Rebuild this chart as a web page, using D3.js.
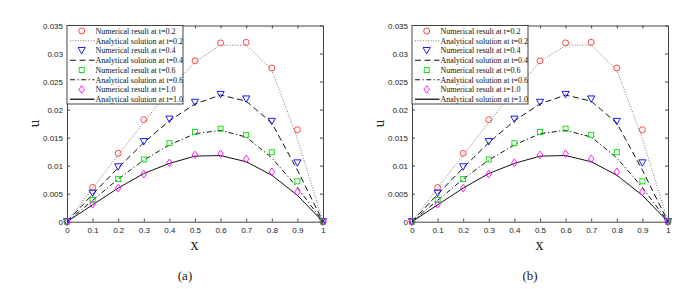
<!DOCTYPE html>
<html>
<head>
<meta charset="utf-8">
<script src="https://cdn.jsdelivr.net/npm/d3@7"></script>
<style>
  body { margin: 0; background: #fff; }
  svg { display: block; }
</style>
</head>
<body>
<div id="chart"></div>
<script>
// x positions
const xs = [0, 0.1, 0.2, 0.3, 0.4, 0.5, 0.6, 0.7, 0.8, 0.9, 1.0]

// numerical results (markers)
const num02 = [0, 0.0061, 0.0122, 0.0182, 0.0238, 0.0287, 0.0319, 0.0320, 0.0274, 0.0164, 0]
const num04 = [0, 0.0051, 0.0098, 0.0143, 0.0183, 0.0213, 0.0227, 0.0219, 0.0179, 0.0105, 0]
const num06 = [0, 0.0039, 0.0076, 0.0111, 0.0140, 0.0160, 0.0166, 0.0155, 0.0124, 0.0072, 0]
const num10 = [0, 0.0031, 0.0060, 0.0085, 0.0105, 0.0119, 0.0121, 0.0112, 0.0089, 0.0053, 0]

// analytical solutions (lines)
const ana02 = [0, 0.0060, 0.0119, 0.0177, 0.0235, 0.0285, 0.0315, 0.0315, 0.0271, 0.0148, 0]
const ana04 = [0, 0.0049, 0.0096, 0.0141, 0.0180, 0.0210, 0.0226, 0.0215, 0.0176, 0.0092, 0]
const ana06 = [0, 0.0038, 0.0076, 0.0110, 0.0137, 0.0157, 0.0163, 0.0151, 0.0114, 0.0061, 0]
const ana10 = [0, 0.0030, 0.0060, 0.0086, 0.0104, 0.0117, 0.0118, 0.0107, 0.0083, 0.0047, 0]

const xTicks = [0, 0.1, 0.2, 0.3, 0.4, 0.5, 0.6, 0.7, 0.8, 0.9, 1]
const yTicks = [0, 0.005, 0.01, 0.015, 0.02, 0.025, 0.03, 0.035]
const panelLabels = ['(a)', '(b)']

const numSeries = [
    { name: 'Numerical result at t=0.2', values: num02, color: '#ff3333', shape: 'circle' },
    { name: 'Numerical result at t=0.4', values: num04, color: '#0000ff', shape: 'triangle' },
    { name: 'Numerical result at t=0.6', values: num06, color: '#00dd00', shape: 'square' },
    { name: 'Numerical result at t=1.0', values: num10, color: '#ff00ff', shape: 'diamond' }
]
const anaSeries = [
    { name: 'Analytical solution at t=0.2', values: ana02, dash: '1,1.6', color: '#777' },
    { name: 'Analytical solution at t=0.4', values: ana04, dash: '6,3.5', color: '#111' },
    { name: 'Analytical solution at t=0.6', values: ana06, dash: '5,2.5,1.2,2.5', color: '#111' },
    { name: 'Analytical solution at t=1.0', values: ana10, dash: null, color: '#111' }
]

const W = 699, H = 289
const svg = d3.select('#chart').append('svg')
    .attr('width', W)
    .attr('height', H)

function drawMarker(g, shape, color, cx, cy) {
    if (shape === 'circle') {
        g.append('circle').attr('cx', cx).attr('cy', cy).attr('r', 3)
            .attr('fill', 'none').attr('stroke', color).attr('stroke-width', 0.9)
    } else if (shape === 'triangle') {
        g.append('path')
            .attr('d', `M${cx - 3.6},${cy - 3} L${cx + 3.6},${cy - 3} L${cx},${cy + 3.4} Z`)
            .attr('fill', 'none').attr('stroke', color).attr('stroke-width', 0.9)
    } else if (shape === 'square') {
        g.append('rect').attr('x', cx - 2.5).attr('y', cy - 2.5).attr('width', 5).attr('height', 5)
            .attr('fill', 'none').attr('stroke', color).attr('stroke-width', 0.9)
    } else {
        g.append('path')
            .attr('d', `M${cx},${cy - 3.8} L${cx + 2.8},${cy} L${cx},${cy + 3.8} L${cx - 2.8},${cy} Z`)
            .attr('fill', 'none').attr('stroke', color).attr('stroke-width', 0.9)
    }
}

function drawPanel(ox, label) {
    const left = ox, right = ox + 256, top = 25.5, bottom = 221.7
    const x = d3.scaleLinear().domain([0, 1]).range([left, right])
    const y = d3.scaleLinear().domain([0, 0.035]).range([bottom, top])
    const g = svg.append('g')

    // axes with inward ticks
    const axB = g.append('g').attr('transform', `translate(0,${bottom})`)
        .call(d3.axisBottom(x).tickValues(xTicks).tickSizeInner(-3).tickSizeOuter(0).tickPadding(6)
            .tickFormat(d => d === 0 || d === 1 ? d3.format('d')(d) : d3.format('.1f')(d)))
    const axT = g.append('g').attr('transform', `translate(0,${top})`)
        .call(d3.axisTop(x).tickValues(xTicks).tickSizeInner(-3).tickSizeOuter(0).tickFormat(''))
    const axL = g.append('g').attr('transform', `translate(${left},0)`)
        .call(d3.axisLeft(y).tickValues(yTicks).tickSizeInner(-3).tickSizeOuter(0).tickPadding(4)
            .tickFormat(d => d === 0 ? '0' : d3.format('')(+d.toFixed(3))))
    const axR = g.append('g').attr('transform', `translate(${right},0)`)
        .call(d3.axisRight(y).tickValues(yTicks).tickSizeInner(-3).tickSizeOuter(0).tickFormat(''))

    ;[axB, axT, axL, axR].forEach(a => {
        a.selectAll('path').attr('stroke', '#444').attr('stroke-width', 1)
        a.selectAll('line').attr('stroke', '#444')
        a.selectAll('text').attr('font-family', 'Liberation Sans, Arial, sans-serif')
            .attr('font-size', 8).attr('fill', '#222')
    })

    // analytical lines
    const line = d3.line().x((d, i) => x(xs[i])).y(d => y(d))
    anaSeries.forEach(s => {
        g.append('path').datum(s.values)
            .attr('d', line)
            .attr('fill', 'none')
            .attr('stroke', s.color)
            .attr('stroke-width', 1)
            .attr('stroke-dasharray', s.dash)
    })

    // numerical markers
    numSeries.forEach(s => {
        s.values.forEach((v, i) => drawMarker(g, s.shape, s.color, x(xs[i]), y(v)))
    })

    // legend
    const lg = g.append('g')
    lg.append('rect').attr('x', left).attr('y', top).attr('width', 116).attr('height', 78.5)
        .attr('fill', '#fff').attr('stroke', '#444').attr('stroke-width', 1)
    const rows = []
    for (let k = 0; k < 4; k++) { rows.push({ type: 'num', s: numSeries[k] }); rows.push({ type: 'ana', s: anaSeries[k] }) }
    rows.forEach((r, k) => {
        const ry = top + 5.5 + k * 9.75
        if (r.type === 'num') {
            drawMarker(lg, r.s.shape, r.s.color, left + 14.7, ry)
        } else {
            lg.append('line').attr('x1', left + 3).attr('x2', left + 27.5).attr('y1', ry).attr('y2', ry)
                .attr('stroke', r.s.color).attr('stroke-width', r.s.dash ? 1 : 1.3)
                .attr('stroke-dasharray', r.s.dash)
        }
        lg.append('text').attr('x', left + 28.5).attr('y', ry + 2.8)
            .attr('font-family', 'Liberation Serif, Times New Roman, serif')
            .attr('font-size', 8).attr('fill', '#111')
            .text(r.s.name)
    })

    // axis labels
    g.append('text')
        .attr('transform', `translate(${left - 28},${(top + bottom) / 2}) rotate(-90)`)
        .attr('text-anchor', 'middle')
        .attr('font-family', 'Liberation Serif, Times New Roman, serif')
        .attr('font-size', 15).attr('fill', '#222')
        .text('u')
    g.append('text')
        .attr('x', (left + right) / 2 - 0.5).attr('y', 250)
        .attr('text-anchor', 'middle')
        .attr('font-family', 'Liberation Serif, Times New Roman, serif')
        .attr('font-size', 16).attr('fill', '#222')
        .text('x')
    g.append('text')
        .attr('x', (left + right) / 2 - 10).attr('y', 280)
        .attr('text-anchor', 'middle')
        .attr('font-family', 'Liberation Serif, Times New Roman, serif')
        .attr('font-size', 13).attr('fill', '#222')
        .text(label)
}

drawPanel(67, panelLabels[0])
drawPanel(412, panelLabels[1])
</script>
</body>
</html>
